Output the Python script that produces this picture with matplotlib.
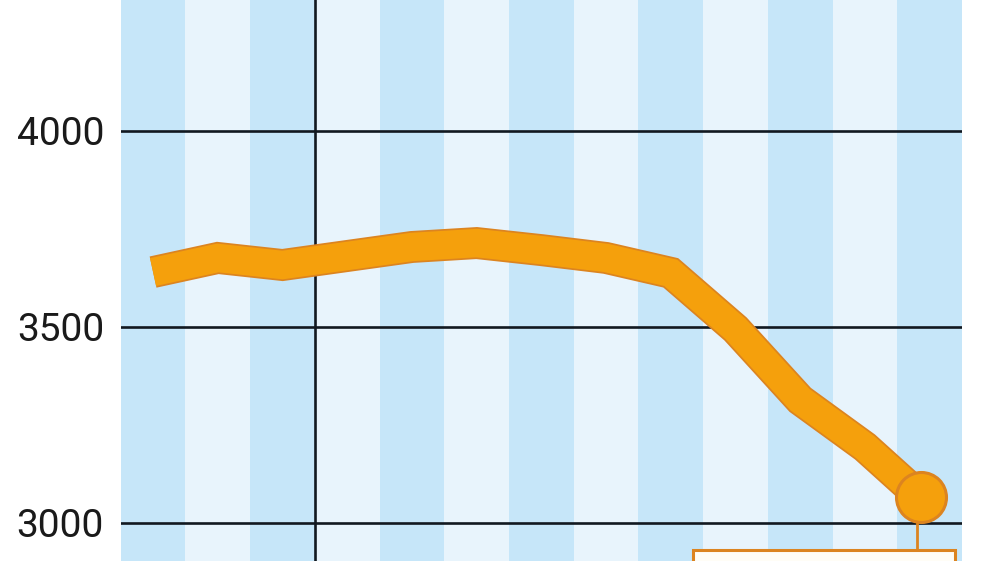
import matplotlib.pyplot as plt
import matplotlib.patheffects as pe
from matplotlib.patches import Rectangle

# values (one point per year stripe, last one is partial)
x_pos = [0, 1, 2, 3, 4, 5, 6, 7, 8, 9, 10, 11, 11.86]
values = [3640, 3676, 3658, 3681, 3704, 3714, 3696, 3676, 3638, 3495, 3314, 3194, 3066]
n_stripes = 13
y_ticks = [3000, 3500, 4000]
y_labels = ['3000', '3500', '4000']

dark_blue = '#c6e6f9'
light_blue = '#e8f4fc'
orange = '#f5a00c'
orange_edge = '#dc8420'

plt.rcParams['font.family'] = ['Roboto', 'DejaVu Sans']

fig = plt.figure(figsize=(10, 5.61), dpi=100)
ax = fig.add_axes([0.1207, 0, 0.8413, 1])
ax.set_xlim(-0.5, n_stripes - 0.5)
ax.set_ylim(2903, 4334)

for i in range(n_stripes):
    ax.axvspan(i - 0.5, i + 0.5, color=dark_blue if i % 2 == 0 else light_blue, lw=0, zorder=0)

for t in y_ticks:
    ax.axhline(t, color='#111820', lw=1.9, zorder=1)
ax.axvline(2.5, color='#111820', lw=1.9, zorder=1)

# annotation box + connector under the end point
ax.add_patch(Rectangle((8.34, 2850), 12.39 - 8.34, 2931 - 2850, facecolor='#fffdf6',
                       edgecolor=orange_edge, lw=2.2, zorder=2, clip_on=False))
ax.plot([x_pos[-1] - 0.05, x_pos[-1] - 0.05], [values[-1], 2931], color=orange_edge, lw=2, zorder=2)

ax.plot(x_pos, values, color=orange, lw=20.5, solid_capstyle='butt', solid_joinstyle='miter', zorder=3,
        path_effects=[pe.Stroke(linewidth=23, foreground=orange_edge), pe.Normal()])
ax.plot(x_pos[-1], values[-1], 'o', ms=36, color=orange, mec=orange_edge, mew=2.2, zorder=4)

ax.set_yticks(y_ticks)
ax.set_yticklabels(y_labels, fontsize=28, color='#1a1a1a')
ax.set_xticks([])
ax.tick_params(axis='y', length=0, pad=12)
for s in ax.spines.values():
    s.set_visible(False)

fig.savefig('out.png', dpi=100)
